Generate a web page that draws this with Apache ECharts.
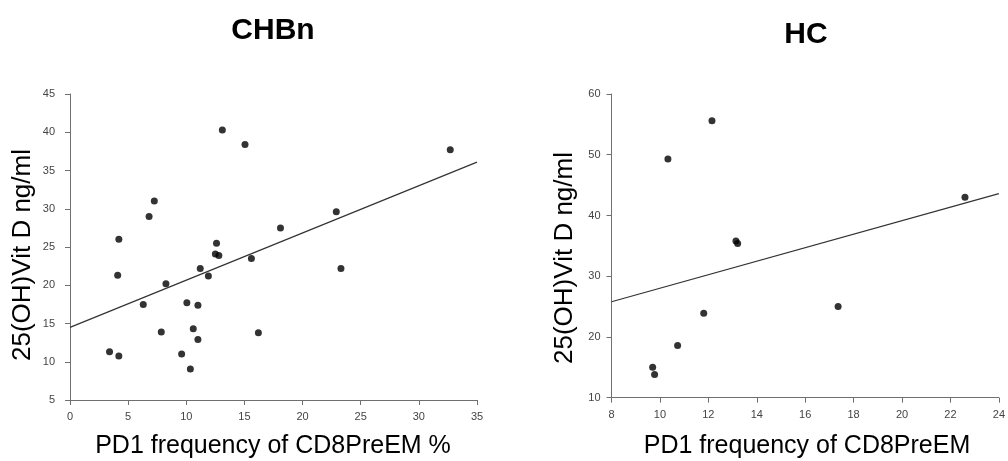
<!DOCTYPE html>
<html>
<head>
<meta charset="utf-8">
<script src="https://cdn.jsdelivr.net/npm/echarts@6/dist/echarts.min.js"></script>
<style>
  html, body { margin: 0; padding: 0; background: #fff; }
  #chart { width: 1008px; height: 461px; }
</style>
</head>
<body>
<div id="chart"></div>
<script>
// CHBn panel: PD1 frequency of CD8PreEM (%) vs 25(OH)Vit D (ng/ml)
const chbnX = [13.1, 15.05, 7.25, 6.8, 22.9, 18.1, 4.2, 12.6, 12.5, 12.8, 15.6, 23.3, 11.2, 11.9,
               4.1, 8.25, 6.3, 10.05, 11.0, 7.85, 10.6, 16.2, 11.0, 3.4, 4.2, 9.6, 10.35, 32.7];
const chbnY = [40.3, 38.4, 31.0, 29.0, 29.6, 27.5, 26.0, 25.5, 24.1, 23.9, 23.5, 22.2, 22.2, 21.2,
               21.3, 20.2, 17.5, 17.7, 17.4, 13.9, 14.3, 13.8, 12.9, 11.3, 10.75, 11.0, 9.05, 37.7];
// regression line end points (x, y)
const chbnFitX = [0, 35];
const chbnFitY = [14.5, 36.1];

// HC panel
const hcX = [10.33, 12.15, 13.14, 13.21, 11.81, 10.73, 9.70, 9.78, 17.36, 22.6];
const hcY = [49.3, 55.6, 35.8, 35.4, 23.9, 18.6, 15.0, 13.8, 25.0, 43.0];
const hcFitX = [8, 24];
const hcFitY = [25.8, 43.6];

// axis ranges / ticks
const chbnXTicks = { min: 0, max: 35, interval: 5 };
const chbnYTicks = { min: 5, max: 45, interval: 5 };
const hcXTicks = { min: 8, max: 24, interval: 2 };
const hcYTicks = { min: 10, max: 60, interval: 10 };

const titles = ['CHBn', 'HC'];
const yName = '25(OH)Vit D ng/ml';
const xNames = ['PD1 frequency of CD8PreEM %', 'PD1 frequency of CD8PreEM'];

const FONT = "'Liberation Sans', Arial, Helvetica, sans-serif";
const AXIS_COLOR = '#707070';
const LABEL_COLOR = '#444';

function pairs(xs, ys) { return xs.map((x, i) => [x, ys[i]]); }

function xAxisOpt(idx, t, margin) {
  return {
    type: 'value', gridIndex: idx, min: t.min, max: t.max, interval: t.interval,
    splitLine: { show: false },
    axisLine: { show: true, onZero: false, lineStyle: { color: AXIS_COLOR, width: 1 } },
    axisTick: { show: true, length: 5, lineStyle: { color: AXIS_COLOR } },
    axisLabel: { color: LABEL_COLOR, fontSize: 11, fontFamily: FONT, margin: margin }
  };
}
function yAxisOpt(idx, t, margin) {
  return {
    type: 'value', gridIndex: idx, min: t.min, max: t.max, interval: t.interval,
    splitLine: { show: false },
    axisLine: { show: true, onZero: false, lineStyle: { color: AXIS_COLOR, width: 1 } },
    axisTick: { show: true, length: 5, lineStyle: { color: AXIS_COLOR } },
    axisLabel: { color: LABEL_COLOR, fontSize: 11, fontFamily: FONT, margin: margin }
  };
}

function textEl(text, x, y, size, weight, rot) {
  return {
    type: 'text', x: x, y: y, rotation: rot || 0,
    style: {
      text: text, fill: '#000', font: weight + ' ' + size + 'px ' + FONT,
      textAlign: 'center', textVerticalAlign: 'middle'
    }
  };
}

const chart = echarts.init(document.getElementById('chart'), null, { renderer: 'canvas' });
chart.setOption({
  backgroundColor: '#fff',
  animation: false,
  grid: [
    { left: 70, right: 531, top: 94, bottom: 61 },
    { left: 611.5, right: 4, top: 94, bottom: 63.3 }
  ],
  xAxis: [xAxisOpt(0, chbnXTicks, 11), xAxisOpt(1, hcXTicks, 12)],
  yAxis: [yAxisOpt(0, chbnYTicks, 15), yAxisOpt(1, hcYTicks, 11)],
  series: [
    { type: 'line', xAxisIndex: 0, yAxisIndex: 0, data: pairs(chbnFitX, chbnFitY),
      symbol: 'none', lineStyle: { color: '#333', width: 1.2 }, silent: true },
    { type: 'scatter', xAxisIndex: 0, yAxisIndex: 0, data: pairs(chbnX, chbnY),
      symbolSize: 7, itemStyle: { color: '#000' } },
    { type: 'line', xAxisIndex: 1, yAxisIndex: 1, data: pairs(hcFitX, hcFitY),
      symbol: 'none', lineStyle: { color: '#333', width: 1.2 }, silent: true },
    { type: 'scatter', xAxisIndex: 1, yAxisIndex: 1, data: pairs(hcX, hcY),
      symbolSize: 7, itemStyle: { color: '#000' } }
  ],
  graphic: [
    textEl(titles[0], 273, 31, 30, 'bold'),
    textEl(titles[1], 806, 35, 30, 'bold'),
    textEl(yName, 23, 255, 26, 'normal', Math.PI / 2),
    textEl(yName, 564.5, 258, 26, 'normal', Math.PI / 2),
    textEl(xNames[0], 273, 446, 25, 'normal'),
    textEl(xNames[1], 807, 446, 25, 'normal')
  ]
});
</script>
</body>
</html>
